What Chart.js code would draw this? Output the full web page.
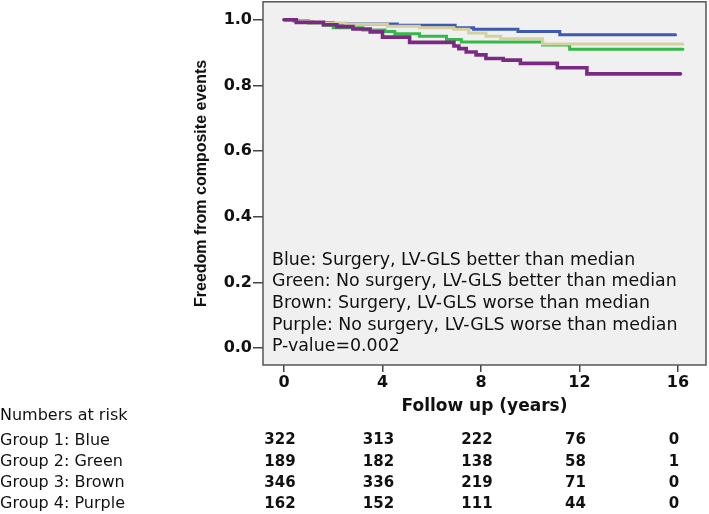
<!DOCTYPE html>
<html>
<head>
<meta charset="utf-8">
<title>Freedom from composite events</title>
<script src="https://cdn.jsdelivr.net/npm/chart.js@4.4.1/dist/chart.umd.min.js"></script>
<style>
  html, body { margin: 0; padding: 0; background: #fff; }
  #wrap { width: 709px; height: 514px; position: relative; }
</style>
</head>
<body>
<div id="wrap"><canvas id="km"></canvas></div>
<script>
// Kaplan-Meier steps: time in years, survival after that time
const blueTime = [0, 0.4, 1.0, 2.0, 4.6, 6.95, 7.7, 9.5, 11.2, 15.9];
const blueSurv = [1.0, 0.996, 0.992, 0.987, 0.983, 0.976, 0.971, 0.964, 0.954, 0.954];

const greenTime = [0, 0.5, 1.0, 1.6, 2.0, 3.2, 4.1, 4.5, 5.5, 6.6, 7.2, 10.5, 11.6, 16.2];
const greenSurv = [1.0, 0.995, 0.99, 0.983, 0.976, 0.969, 0.964, 0.957, 0.95, 0.94, 0.932, 0.923, 0.91, 0.91];

const brownTime = [0, 0.5, 1.2, 2.5, 4.2, 5.5, 6.9, 7.5, 8.2, 8.8, 10.5, 16.2];
const brownSurv = [1.0, 0.995, 0.99, 0.986, 0.98, 0.976, 0.971, 0.96, 0.95, 0.942, 0.926, 0.926];

const purpleTime = [0, 0.5, 1.6, 2.15, 2.8, 3.5, 4.0, 5.1, 6.9, 7.1, 7.4, 7.8, 8.2, 8.9, 9.6, 11.1, 12.3, 16.1];
const purpleSurv = [1.0, 0.992, 0.985, 0.979, 0.972, 0.963, 0.947, 0.931, 0.92, 0.912, 0.902, 0.893, 0.882, 0.877, 0.867, 0.854, 0.835, 0.835];

const xTicks = [0, 4, 8, 12, 16];
const yTicks = [0, 0.2, 0.4, 0.6, 0.8, 1.0];

const legendLines = [
    "Blue: Surgery, LV-GLS better than median",
    "Green: No surgery, LV-GLS better than median",
    "Brown: Surgery, LV-GLS worse than median",
    "Purple: No surgery, LV-GLS worse than median",
    "P-value=0.002"
];

// numbers at risk table
const riskTimes = [0, 4, 8, 12, 16];
const riskGroups = ["Group 1: Blue", "Group 2: Green", "Group 3: Brown", "Group 4: Purple"];
const riskBlue = [322, 313, 222, 76, 0];
const riskGreen = [189, 182, 138, 58, 1];
const riskBrown = [346, 336, 219, 71, 0];
const riskPurple = [162, 152, 111, 44, 0];
const riskRows = [riskBlue, riskGreen, riskBrown, riskPurple];

function toPoints(times, surv) {
    return times.map((t, i) => ({ x: t, y: surv[i] }));
}

const frameAndText = {
    id: "frameAndText",
    beforeDatasetsDraw(chart) {
        const { ctx, chartArea: a } = chart;
        ctx.save();
        ctx.fillStyle = "#f0f0f0";
        ctx.fillRect(a.left, a.top, a.right - a.left, a.bottom - a.top);
        ctx.restore();
    },
    afterDraw(chart) {
        const { ctx, chartArea: a } = chart;
        const xs = chart.scales.x;

        ctx.save();
        ctx.strokeStyle = "#555";
        ctx.lineWidth = 1.5;
        ctx.strokeRect(a.left, a.top, a.right - a.left, a.bottom - a.top);

        // legend text inside the plot
        ctx.fillStyle = "#111";
        ctx.font = "17.4px 'DejaVu Sans'";
        ctx.textBaseline = "middle";
        ctx.textAlign = "left";
        legendLines.forEach((line, i) => {
            ctx.fillText(line, a.left + 9, 260 + i * 21.7);
        });

        // numbers at risk
        ctx.font = "16px 'DejaVu Sans'";
        ctx.fillText("Numbers at risk", 0, 416);
        riskGroups.forEach((g, i) => {
            const y = 440.5 + i * 21.2;
            ctx.font = "16px 'DejaVu Sans'";
            ctx.textAlign = "left";
            ctx.fillText(g, 0, y);
            ctx.font = "bold 15px 'DejaVu Sans'";
            ctx.textAlign = "center";
            riskRows[i].forEach((n, j) => {
                ctx.fillText(String(n), xs.getPixelForValue(riskTimes[j]) - 4, y);
            });
        });
        ctx.restore();
    }
};

const ctx = document.getElementById("km").getContext("2d");

new Chart(ctx, {
    type: "line",
    data: {
        datasets: [
            { label: "Blue", data: toPoints(blueTime, blueSurv), borderColor: "#3d5aae", order: 3 },
            { label: "Green", data: toPoints(greenTime, greenSurv), borderColor: "#34b847", order: 2 },
            { label: "Brown", data: toPoints(brownTime, brownSurv), borderColor: "#d6d0a0", order: 1 },
            { label: "Purple", data: toPoints(purpleTime, purpleSurv), borderColor: "#7a2a82", borderWidth: 3.6, order: 0 }
        ]
    },
    options: {
        responsive: true,
        maintainAspectRatio: false,
        animation: false,
        layout: { padding: { left: 191, top: 1, right: 3, bottom: 97 } },
        elements: {
            line: { stepped: "before", borderWidth: 3, borderCapStyle: "round", fill: false, tension: 0 },
            point: { radius: 0, hoverRadius: 0 }
        },
        plugins: {
            legend: { display: false },
            tooltip: { enabled: false }
        },
        scales: {
            x: {
                type: "linear",
                min: -0.853,
                max: 17.137,
                afterBuildTicks: s => { s.ticks = xTicks.map(v => ({ value: v })); },
                afterFit: s => { s.height = 52; },
                grid: { display: true, drawOnChartArea: false, drawTicks: true, tickLength: 7, color: "#444", lineWidth: 1.5 },
                border: { display: false },
                ticks: {
                    autoSkip: false,
                    maxRotation: 0,
                    padding: 1,
                    color: "#111",
                    font: { family: "'DejaVu Sans'", size: 16, weight: "bold" },
                    callback: v => String(v)
                },
                title: {
                    display: true,
                    text: "Follow up (years)",
                    color: "#111",
                    padding: 0,
                    font: { family: "'DejaVu Sans'", size: 17, weight: "bold", lineHeight: 1.2 }
                }
            },
            y: {
                type: "linear",
                min: -0.0517,
                max: 1.0547,
                afterBuildTicks: s => { s.ticks = yTicks.map(v => ({ value: v })); },
                afterFit: s => { s.width = 72; },
                grid: { display: true, drawOnChartArea: false, drawTicks: true, tickLength: 10, color: "#444", lineWidth: 1.5 },
                border: { display: false },
                ticks: {
                    autoSkip: false,
                    padding: 1,
                    color: "#111",
                    // tiny line height keeps the 1.0 label from pushing the plot down
                    font: { family: "'DejaVu Sans'", size: 16, weight: "bold", lineHeight: 0.1 },
                    callback: v => Number(v).toFixed(1)
                },
                title: {
                    display: true,
                    text: "Freedom from composite events",
                    color: "#111",
                    padding: 0,
                    font: { family: "'Liberation Sans'", size: 16, weight: "bold", lineHeight: 1.3 }
                }
            }
        }
    },
    plugins: [frameAndText]
});
</script>
</body>
</html>
